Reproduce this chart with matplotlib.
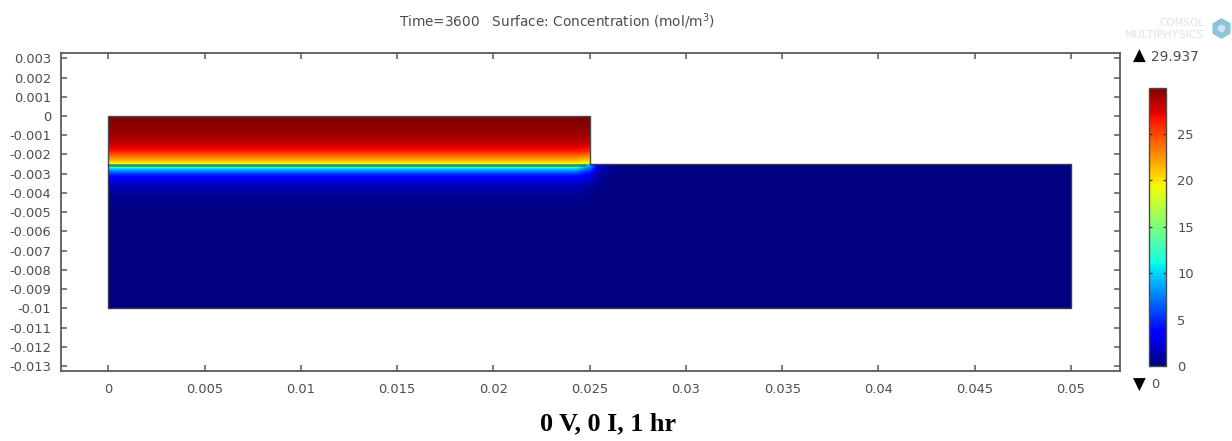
import numpy as np
import matplotlib
matplotlib.use("Agg")
import matplotlib.pyplot as plt
from matplotlib.cm import ScalarMappable
from matplotlib.colors import Normalize

# values
c_min = 0
c_max = 29.937

# upper domain, concentration vs depth
upper_x = [0, 0.0243, 0.025]
upper_y = [0, -0.0004, -0.0008, -0.00125, -0.00177, -0.00218, -0.00244, -0.0025]
upper_c = [
    [29.9, 29.9, 29.9],
    [29.7, 29.7, 29.7],
    [29.3, 29.3, 29.3],
    [28.7, 28.7, 28.7],
    [26.6, 26.6, 26.2],
    [22.5, 22.5, 21.5],
    [19.5, 19.5, 19.0],
    [17.5, 17.5, 18.5],
]

# lower domain
lower_x = [0, 0.0243, 0.025, 0.0254, 0.026, 0.027, 0.05]
lower_y = [-0.0025, -0.00265, -0.0028, -0.0031, -0.0036, -0.0042, -0.005, -0.01]
lower_c = [
    [15.0, 15.0, 9.0, 2.5, 0.7, 0.1, 0],
    [11.5, 11.5, 7.5, 2.2, 0.6, 0.1, 0],
    [8.0, 8.0, 5.4, 1.8, 0.5, 0.1, 0],
    [3.8, 3.8, 2.7, 1.1, 0.3, 0.1, 0],
    [1.5, 1.5, 1.0, 0.4, 0.1, 0, 0],
    [0.4, 0.4, 0.2, 0.1, 0, 0, 0],
    [0.05, 0.05, 0, 0, 0, 0, 0],
    [0, 0, 0, 0, 0, 0, 0],
]

# upper and lower domain outlines
upper_line_x = [0, 0, 0.025, 0.025]
upper_line_y = [-0.0025, 0, 0, -0.0025]
lower_line_x = [0, 0, 0.05, 0.05, 0.025]
lower_line_y = [-0.0025, -0.01, -0.01, -0.0025, -0.0025]
interface_x = [0, 0.0248]
interface_y = [-0.00254, -0.00254]

x_ticks = [0, 0.005, 0.01, 0.015, 0.02, 0.025, 0.03, 0.035, 0.04, 0.045, 0.05]
x_labels = ["0", "0.005", "0.01", "0.015", "0.02", "0.025", "0.03", "0.035", "0.04", "0.045", "0.05"]
y_ticks = [0.003, 0.002, 0.001, 0, -0.001, -0.002, -0.003, -0.004, -0.005, -0.006,
           -0.007, -0.008, -0.009, -0.01, -0.011, -0.012, -0.013]
y_labels = ["0.003", "0.002", "0.001", "0", "-0.001", "-0.002", "-0.003", "-0.004", "-0.005",
            "-0.006", "-0.007", "-0.008", "-0.009", "-0.01", "-0.011", "-0.012", "-0.013"]
cbar_ticks = [0, 5, 10, 15, 20, 25]

W, H = 1232, 441
GREY = "#4d4d4d"
LINE = "#5a5a5a"


def fx(px):
    return px / W


def fy(py):
    return 1 - py / H


fig = plt.figure(figsize=(W / 100, H / 100), dpi=100)

# ---------------------------------
# Main axes
# ---------------------------------

ax = fig.add_axes([fx(61), fy(370.7), fx(1119.5 - 61), (370.7 - 52.5) / H])

levels = np.linspace(c_min, c_max, 256)
ax.contourf(upper_x, upper_y, np.array(upper_c), levels=levels, cmap="jet", extend="both")
ax.contourf(lower_x, lower_y, np.array(lower_c), levels=levels, cmap="jet", extend="both")

ax.plot(interface_x, interface_y, color="#2f7a4a", lw=1.8, alpha=0.85, solid_capstyle="butt")
ax.plot(upper_line_x, upper_line_y, color="#4a4a55", lw=1.0)
ax.plot(lower_line_x, lower_line_y, color="#3a3a4a", lw=1.0)

# x=0 sat exactly on a pixel boundary with -0.00244, which made the edge jump
ax.set_xlim(-0.00246, 0.00252 + 0.05)
ax.set_ylim(-0.01324, 0.0033)

ax.set_xticks(x_ticks)
ax.set_xticklabels(x_labels)
ax.set_yticks(y_ticks)
ax.set_yticklabels(y_labels)
ax.tick_params(direction="in", length=4, width=1.1, color=LINE, labelcolor=GREY,
               labelsize=9.4, top=True, right=True)
ax.tick_params(axis="x", pad=9)
ax.tick_params(axis="y", pad=7)

for sp in ax.spines.values():
    sp.set_color(LINE)
    sp.set_linewidth(1.3)

# ---------------------------------
# Colorbar
# ---------------------------------

cax = fig.add_axes([fx(1148.5), fy(366), fx(1166 - 1148.5), (366 - 88) / H])
sm = ScalarMappable(norm=Normalize(c_min, c_max), cmap="jet")
cbar = fig.colorbar(sm, cax=cax)
cbar.set_ticks(cbar_ticks)
cbar.ax.tick_params(direction="in", length=2, width=0.9, left=True, right=True,
                    color="#333333", labelsize=9.4, labelcolor=GREY, pad=8)
cbar.outline.set_edgecolor("#4a4a4a")
cbar.outline.set_linewidth(1.0)

# ---------------------------------
# Text
# ---------------------------------

fig.text(fx(556.5), fy(21), "Time=3600   Surface: Concentration (mol/m$^3$)",
         ha="center", va="center", fontsize=9.8, color=GREY)
fig.text(fx(1133), fy(56), "\u25b2", ha="left", va="center", fontsize=12, color="black")
fig.text(fx(1151), fy(57), "29.937", ha="left", va="center", fontsize=9.8, color=GREY)
fig.text(fx(1133), fy(385), "\u25bc", ha="left", va="center", fontsize=12, color="black")
fig.text(fx(1151), fy(385), "0", ha="left", va="center", fontsize=9.4, color=GREY)
fig.text(fx(608.5), fy(424), "0 V, 0 I, 1 hr", ha="center", va="center", fontsize=18.8,
         fontweight="bold", family="Liberation Serif", color="black")

# COMSOL logo
fig.text(fx(1204), fy(23), "COMSOL", ha="right", va="center", fontsize=7.5, color="#d8e3ea")
fig.text(fx(1204), fy(35), "MULTIPHYSICS", ha="right", va="center", fontsize=8, color="#d8e3ea")
ax.plot([fx(1221)], [fy(28)], marker="h", ms=15, color="#8fc3dc", mec="none",
        transform=fig.transFigure, clip_on=False)
ax.plot([fx(1221)], [fy(28)], marker="h", ms=6, color="#cfe4ef", mec="none",
        transform=fig.transFigure, clip_on=False)

fig.savefig("out.png", dpi=100)
